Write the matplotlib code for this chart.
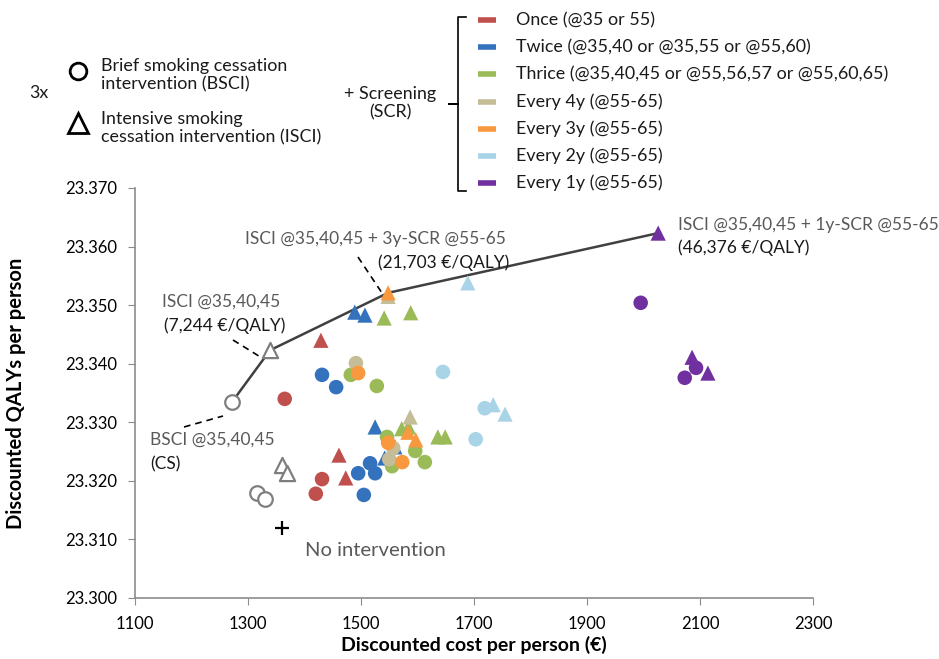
import matplotlib
matplotlib.use('Agg')
import matplotlib.pyplot as plt

plt.rcParams['font.family'] = ['Lato', 'DejaVu Sans']

# costs (€) and QALYs, circles = BSCI, triangles = ISCI
no_int_cost = [1360]
no_int_qaly = [23.3120]

bsci_cost = [1272, 1316, 1330]
bsci_qaly = [23.3335, 23.3179, 23.3169]
isci_cost = [1339, 1360, 1369]
isci_qaly = [23.3423, 23.3227, 23.3213]

once_c_cost = [1365, 1431, 1420]
once_c_qaly = [23.3340, 23.3203, 23.3178]
once_t_cost = [1429, 1461, 1473]
once_t_qaly = [23.3440, 23.3244, 23.3205]

twice_c_cost = [1431, 1456, 1495, 1516, 1525, 1505]
twice_c_qaly = [23.3381, 23.3360, 23.3213, 23.3230, 23.3213, 23.3176]
twice_t_cost = [1489, 1507, 1525, 1542, 1560]
twice_t_qaly = [23.3488, 23.3483, 23.3292, 23.3239, 23.3258]

thrice_c_cost = [1482, 1528, 1546, 1555, 1596, 1613]
thrice_c_qaly = [23.3381, 23.3362, 23.3275, 23.3225, 23.3251, 23.3232]
thrice_t_cost = [1541, 1588, 1572, 1584, 1636, 1649]
thrice_t_qaly = [23.3478, 23.3487, 23.3289, 23.3292, 23.3275, 23.3275]

y4_c_cost = [1491, 1557, 1550]
y4_c_qaly = [23.3401, 23.3256, 23.3237]
y4_t_cost = [1548, 1587]
y4_t_qaly = [23.3515, 23.3309]

y3_c_cost = [1495, 1548, 1573]
y3_c_qaly = [23.3384, 23.3265, 23.3232]
y3_t_cost = [1548, 1583, 1597]
y3_t_qaly = [23.3521, 23.3283, 23.3270]

y2_c_cost = [1645, 1719, 1703]
y2_c_qaly = [23.3386, 23.3324, 23.3271]
y2_t_cost = [1689, 1734, 1755]
y2_t_qaly = [23.3538, 23.3330, 23.3314]

y1_c_cost = [1995, 2073, 2093]
y1_c_qaly = [23.3504, 23.3376, 23.3393]
y1_t_cost = [2026, 2086, 2114]
y1_t_qaly = [23.3623, 23.3411, 23.3384]

# efficiency frontier
front_cost = [1272, 1339, 1548, 2026]
front_qaly = [23.3335, 23.3423, 23.3521, 23.3623]

groups = ['Once (@35 or 55)',
          'Twice (@35,40 or @35,55 or @55,60)',
          'Thrice (@35,40,45 or @55,56,57 or @55,60,65)',
          'Every 4y (@55-65)',
          'Every 3y (@55-65)',
          'Every 2y (@55-65)',
          'Every 1y (@55-65)']
colors = ['#C0504D', '#3472BE', '#9BBB59', '#C4BD97', '#F9993F', '#A9D3E7', '#7030A0']

circ_data = [(once_c_cost, once_c_qaly), (twice_c_cost, twice_c_qaly),
             (thrice_c_cost, thrice_c_qaly), (y4_c_cost, y4_c_qaly),
             (y3_c_cost, y3_c_qaly), (y2_c_cost, y2_c_qaly), (y1_c_cost, y1_c_qaly)]
tri_data = [(once_t_cost, once_t_qaly), (twice_t_cost, twice_t_qaly),
            (thrice_t_cost, thrice_t_qaly), (y4_t_cost, y4_t_qaly),
            (y3_t_cost, y3_t_qaly), (y2_t_cost, y2_t_qaly), (y1_t_cost, y1_t_qaly)]

gray_txt = '#595959'
dark_txt = '#1a1a1a'

fig = plt.figure(figsize=(9.39, 6.59), dpi=100)
ax = fig.add_axes([135/939, 1-598/659, 678/939, 410/659])

ax.plot(front_cost, front_qaly, color='#404040', lw=1.8, zorder=1)

ax.scatter(bsci_cost, bsci_qaly, s=110, marker='o', facecolor='white',
           edgecolor='#7f7f7f', linewidth=1.6, zorder=3)
ax.scatter(isci_cost, isci_qaly, s=120, marker='^', facecolor='white',
           edgecolor='#7f7f7f', linewidth=1.6, zorder=3)
ax.scatter(no_int_cost, no_int_qaly, s=110, marker='+', color='black', linewidth=1.6, zorder=3)

for (cc, cq), (tc, tq), col in zip(circ_data, tri_data, colors):
    ax.scatter(cc, cq, s=110, marker='o', color=col, edgecolor='none', zorder=3)
    ax.scatter(tc, tq, s=120, marker='^', color=col, edgecolor='none', zorder=3)

ax.set_xlim(1100, 2300)
ax.set_ylim(23.300, 23.370)
ax.set_xticks(range(1100, 2301, 200))
ax.set_yticks([23.300 + 0.01*i for i in range(8)])
ax.set_yticklabels(['%.3f' % (23.300 + 0.01*i) for i in range(8)])
for s in ['top', 'right']:
    ax.spines[s].set_visible(False)
for s in ['left', 'bottom']:
    ax.spines[s].set_color('#8c8c8c')
    ax.spines[s].set_linewidth(1.2)
ax.tick_params(direction='out', length=5, color='#8c8c8c', labelsize=12, pad=8)
ax.set_xlabel('Discounted cost per person (€)', fontsize=14, fontweight='bold', labelpad=3)
ax.set_ylabel('Discounted QALYs per person', fontsize=14.5, fontweight='bold', labelpad=28)

# overlay in pixel coordinates for legend and annotations
lay = fig.add_axes([0, 0, 1, 1], zorder=5)
lay.set_xlim(0, 939)
lay.set_ylim(659, 0)
lay.axis('off')

fs = 12.9
afs = 12.5
lay.text(29, 93, '3x', fontsize=fs, va='center', color=dark_txt)
lay.plot([78], [71], marker='o', ms=12, mfc='white', mec='black', mew=2)
lay.plot([78], [123], marker='^', ms=14, mfc='white', mec='black', mew=2)
lay.text(101, 75, 'Brief smoking cessation\nintervention (BSCI)', fontsize=fs,
         va='center', color=dark_txt, linespacing=1.2)
lay.text(101, 128, 'Intensive smoking\ncessation intervention (ISCI)', fontsize=fs,
         va='center', color=dark_txt, linespacing=1.2)
lay.text(390, 103, '+ Screening\n(SCR)', fontsize=fs, ha='center', va='center',
         color=dark_txt, linespacing=1.2)

# bracket
lay.plot([466, 458, 458, 449, 458, 458, 466], [17, 17, 104, 104, 104, 191, 191],
         color='black', lw=1.2, solid_joinstyle='round')

for i, (lab, col) in enumerate(zip(groups, colors)):
    yy = 20 + i * 27.2
    lay.plot([478, 496], [yy, yy], color=col, lw=4, solid_capstyle='butt')
    lay.text(516, yy, lab, fontsize=fs, va='center', color=dark_txt)

# annotations
lay.text(245, 239, 'ISCI @35,40,45 + 3y-SCR @55-65', fontsize=afs, va='center', color=gray_txt)
lay.text(378, 263, '(21,703 €/QALY)', fontsize=afs, va='center', color=dark_txt)
lay.plot([358, 382], [257, 293], color='black', lw=1.2, ls=(0, (4, 3)))

lay.text(162, 302, 'ISCI @35,40,45', fontsize=afs, va='center', color=gray_txt)
lay.text(164, 326, '(7,244 €/QALY)', fontsize=afs, va='center', color=dark_txt)
lay.plot([233, 262], [340, 358], color='black', lw=1.2, ls=(0, (4, 3)))

lay.text(150, 440, 'BSCI @35,40,45', fontsize=afs, va='center', color=gray_txt)
lay.text(150, 464, '(CS)', fontsize=afs, va='center', color=dark_txt)
lay.plot([184, 223], [427, 416], color='black', lw=1.2, ls=(0, (4, 3)))

lay.text(678, 225, 'ISCI @35,40,45 + 1y-SCR @55-65', fontsize=afs, va='center', color=gray_txt)
lay.text(678, 248, '(46,376 €/QALY)', fontsize=afs, va='center', color=dark_txt)

lay.text(305, 551, 'No intervention', fontsize=14.6, va='center', color=gray_txt)

fig.savefig('out.png', dpi=100)
